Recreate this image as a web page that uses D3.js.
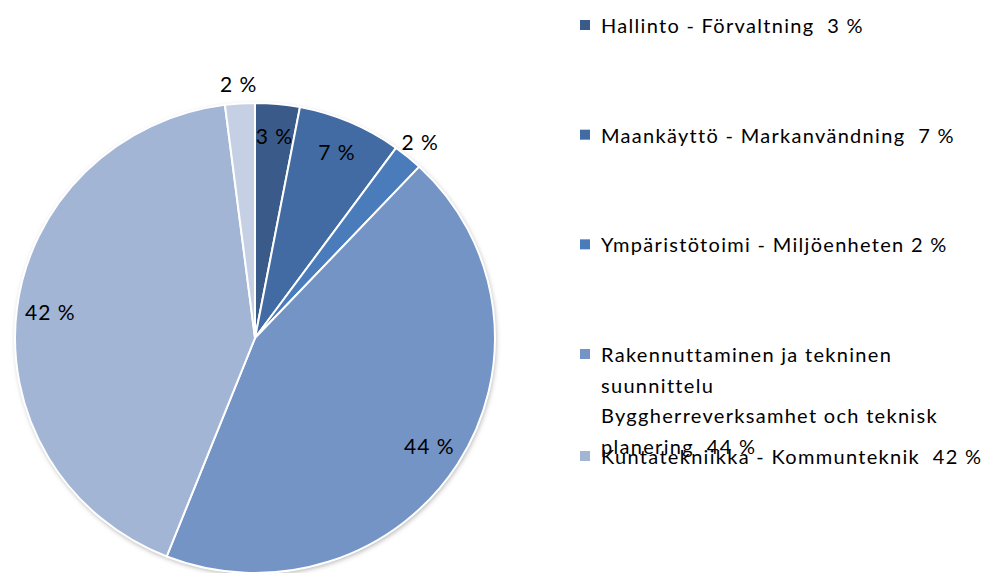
<!DOCTYPE html>
<html>
<head>
<meta charset="utf-8">
<script src="https://cdn.jsdelivr.net/npm/d3@7"></script>
<style>
	body { margin: 0; background: #fff; }
	svg { display: block; font-family: Lato, 'Open Sans', sans-serif; }
</style>
</head>
<body>
<div id="chart"></div>
<script>
/* global d3 */

// data (sixth slice has no legend entry visible)
var categories = [
	'Hallinto - Förvaltning',
	'Maankäyttö - Markanvändning',
	'Ympäristötoimi - Miljöenheten',
	'Rakennuttaminen ja tekninen|suunnittelu|Byggherreverksamhet och teknisk|planering',
	'Kuntatekniikka - Kommunteknik',
	''
];
var shares = [3, 7, 2, 44, 42, 2];
var legendGaps = ['  ', '  ', ' ', '  ', '  ', ''];
var sliceColors = ['#3a5b89', '#416ba2', '#4a7bbb', '#7394c5', '#a3b5d5', '#c6d0e4'];

var buildPieChart = function (el) {
	'use strict';

	function PieChart (el) {
		this.data = categories.map(function (c, i) {
			return { name: c, val: shares[i], color: sliceColors[i], gap: legendGaps[i] };
		});
		this.svg = this.buildSVG(el);
		this.addDefs();
		this.arcs = this.setArcs();
		this.displaySlices();
		this.displayLabels();
		this.displayLegend();
	}

	PieChart.prototype = {
		width: 1000,
		height: 573,
		center: {x: 255, y: 338},
		radius: 240,
		squash: 235 / 240,

		buildSVG: function (el) {
			return d3.select(el).append('svg')
				.attr('width', this.width)
				.attr('height', this.height);
		},

		addDefs: function () {
			var f = this.svg.append('defs').append('filter')
				.attr('id', 'shadow')
				.attr('x', '-10%').attr('y', '-10%')
				.attr('width', '120%').attr('height', '120%');
			f.append('feDropShadow')
				.attr('dx', 1).attr('dy', 2)
				.attr('stdDeviation', 2.5)
				.attr('flood-color', '#000')
				.attr('flood-opacity', 0.3);
		},

		setArcs: function () {
			var pie = d3.pie().sort(null).value(function (d) { return d.val; });
			return pie(this.data);
		},

		displaySlices: function () {
			var arc = d3.arc().innerRadius(0).outerRadius(this.radius);
			this.g = this.svg.append('g')
				.attr('transform', 'translate(' + this.center.x + ',' + this.center.y + ') scale(1,' + this.squash + ')');

			this.g.append('circle')
				.attr('r', this.radius)
				.attr('fill', '#fff')
				.attr('filter', 'url(#shadow)');

			this.g.selectAll('.slice')
				.data(this.arcs)
				.enter().append('path')
					.attr('class', 'slice')
					.attr('d', arc)
					.attr('fill', function (d) { return d.data.color; })
					.attr('stroke', '#fff')
					.attr('stroke-width', 2);
		},

		displayLabels: function () {
			var that = this;
			var inner = d3.arc().innerRadius(this.radius * 0.86).outerRadius(this.radius * 0.86);
			var outer = d3.arc().innerRadius(this.radius * 1.08).outerRadius(this.radius * 1.08);

			this.svg.selectAll('.pct')
				.data(this.arcs)
				.enter().append('text')
					.attr('class', 'pct')
					.attr('transform', function (d) {
						var p = (d.data.val <= 2 ? outer : inner).centroid(d);
						return 'translate(' + (that.center.x + p[0]) + ',' + (that.center.y + p[1] * that.squash) + ')';
					})
					.attr('text-anchor', 'middle')
					.attr('dy', '0.35em')
					.style('font-size', '21px')
					.style('letter-spacing', '1px')
					.style('fill', '#000')
					.text(function (d) { return d.data.val + ' %'; });
		},

		displayLegend: function () {
			var items = this.data.filter(function (d) { return d.name !== ''; });
			var y = d3.scaleLinear().domain([0, 3, 4]).range([25, 354, 456]);

			var legend = this.svg.append('g').attr('class', 'legend');
			var rows = legend.selectAll('.row')
				.data(items)
				.enter().append('g')
					.attr('class', 'row')
					.attr('transform', function (d, i) { return 'translate(580,' + y(i) + ')'; });

			rows.append('rect')
				.attr('x', 0).attr('y', -5)
				.attr('width', 10).attr('height', 10)
				.attr('fill', function (d) { return d.color; });

			rows.append('text')
				.attr('x', 21)
				.attr('y', 8)
				.style('font-size', '20px')
				.style('letter-spacing', '1.3px')
				.style('fill', '#000')
				.style('white-space', 'pre')
				.each(function (d) {
					var lines = d.name.split('|');
					var t = d3.select(this);
					lines.forEach(function (l, k) {
						t.append('tspan')
							.attr('x', 21)
							.attr('dy', k === 0 ? 0 : 30.5)
							.text(k === lines.length - 1 ? l + d.gap + d.val + ' %' : l);
					});
				});
			return legend;
		}
	};

	return new PieChart(el);
};

buildPieChart('#chart');
</script>
</body>
</html>
